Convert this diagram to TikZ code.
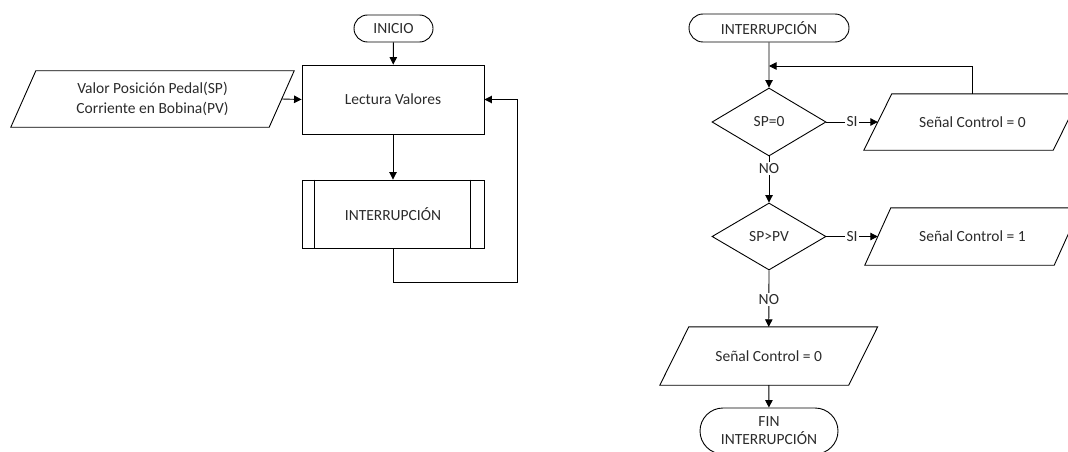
\documentclass[tikz,border=0pt]{standalone}
\usepackage{fontspec}
\setmainfont{Carlito}
\usetikzlibrary{shapes.geometric,shapes.misc,arrows.meta,calc}

\definecolor{ink}{HTML}{2B2B2B}

\tikzset{
  every node/.style={font=\fontsize{15.5}{20}\selectfont, text=ink},
  line/.style={draw=black, line width=0.9pt},
  arrow/.style={line, -{Triangle[length=7.5pt,width=7.5pt]}},
  terminal/.style={line, rounded rectangle, rounded rectangle arc length=180,
    inner sep=0pt, align=center},
  process/.style={line, rectangle, inner sep=0pt, minimum width=182pt, minimum height=69pt},
  subproc/.style={process},
  % data box: the node is the mid-line rectangle, the outline is drawn by \slantbox
  io/.style={rectangle, inner sep=0pt, align=center},
  decision/.style={line, diamond, aspect=1.7, inner sep=0pt,
    minimum width=114pt, minimum height=68pt},
  branch/.style={fill=white, inner sep=1.5pt}
}

% parallelogram around node #1 with horizontal slant #2
\newcommand\slantbox[2]{%
  \draw[line] ($(#1.south west)+(-#2/2,0)$) -- ($(#1.north west)+(#2/2,0)$)
    -- ($(#1.north east)+(#2/2,0)$) -- ($(#1.south east)+(-#2/2,0)$) -- cycle;}

\begin{document}
\begin{tikzpicture}[x=1pt, y=-1pt]
  \useasboundingbox (0,0) rectangle (1068,452);
  \clip (0,0) rectangle (1068,452);

  % ---- main program ----
  \node[terminal, minimum width=79pt, minimum height=27pt] (ini) at (393.5,28.5) {INICIO};
  \node[process] (lect) at (393,99.5) {Lectura Valores};
  \node[io, minimum width=258pt, minimum height=56pt] (inp) at (152.5,99)
    {Valor Posición Pedal(SP)\\Corriente en Bobina(PV)};
  \slantbox{inp}{25}
  \node[subproc, minimum height=68pt] (sub) at (393,214) {INTERRUPCIÓN};
  \draw[line] ($(sub.north west)+(13,0)$) -- ($(sub.south west)+(13,0)$);
  \draw[line] ($(sub.north east)+(-14,0)$) -- ($(sub.south east)+(-14,0)$);
  \coordinate (loopc) at (517,282);

  \draw[arrow] (ini) -- (lect);
  \draw[arrow] (inp.east) -- (lect.west);
  \draw[arrow] (lect) -- (sub);
  \draw[arrow] (sub.south) |- (loopc) |- (lect.east);

  % ---- interrupt routine ----
  \node[terminal, minimum width=160pt, minimum height=28pt] (irq) at (769,28) {INTERRUPCIÓN};
  \coordinate (join) at (769,66);
  \node[decision] (d1) at (769,122) {SP=0};
  \node[io, minimum width=189pt, minimum height=56pt] (o1) at (972.5,122) {Señal Control = 0};
  \slantbox{o1}{28}
  \node[decision, minimum height=67pt] (d2) at (769,236.5) {SP>PV};
  \node[io, minimum width=189pt, minimum height=57pt] (o2) at (972.5,236.5) {Señal Control = 1};
  \slantbox{o2}{26}
  \node[io, minimum width=188.5pt, minimum height=58pt] (o3) at (768.75,356) {Señal Control = 0};
  \slantbox{o3}{29}
  \node[terminal, minimum width=138pt, minimum height=46pt,
    font=\fontsize{15.5}{18}\selectfont] (fin) at (769,431) {FIN\\INTERRUPCIÓN};

  \draw[arrow] (irq) -- (d1);
  \draw[arrow] (o1.north) |- (join);
  \draw[arrow] (d1.east) -- node[branch] {SI} (o1.west);
  \draw[arrow] (d1.south) -- node[branch, pos=0.27] {NO} (d2.north);
  \draw[arrow] (d2.east) -- node[branch] {SI} (o2.west);
  \draw[arrow] (d2.south) -- node[branch, pos=0.52] {NO} (o3.north);
  \draw[arrow] (o3) -- (fin);
\end{tikzpicture}
\end{document}
